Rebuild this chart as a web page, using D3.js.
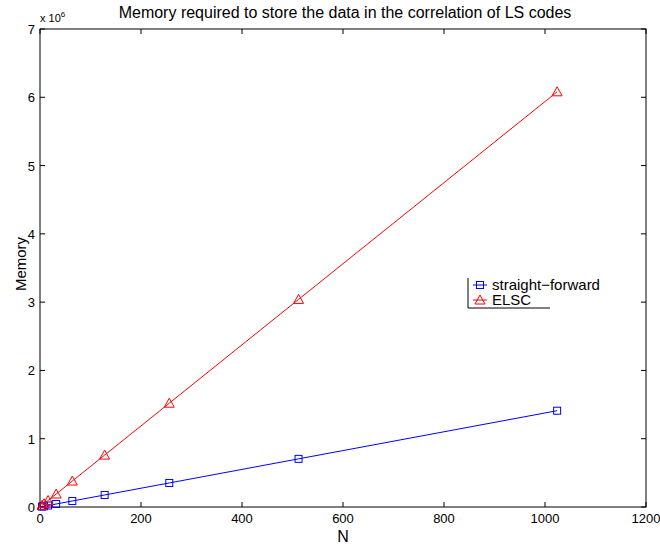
<!DOCTYPE html>
<html>
<head>
<meta charset="utf-8">
<script src="https://cdn.jsdelivr.net/npm/d3@7"></script>
<style>
  body { margin: 0; background: #fff; }
  text { font-family: "Liberation Sans", Arial, sans-serif; }
</style>
</head>
<body>
<script>
// Data.
const nValues = [4, 8, 16, 32, 64, 128, 256, 512, 1024];
const straightForward = [0.0055e6, 0.011e6, 0.022e6, 0.044e6, 0.088e6, 0.176e6, 0.352e6, 0.705e6, 1.41e6];
const elsc = [0.024e6, 0.048e6, 0.095e6, 0.19e6, 0.38e6, 0.76e6, 1.52e6, 3.04e6, 6.08e6];
const xTicks = [0, 200, 400, 600, 800, 1000, 1200];
const yTicks = [0, 1, 2, 3, 4, 5, 6, 7];
const seriesNames = ["straight\u2212forward", "ELSC"];

const width = 660, height = 544;
const margin = {left: 40, right: 14, top: 29, bottom: 37};

const svg = d3.select("body").append("svg")
  .attr("width", width)
  .attr("height", height);

const x = d3.scaleLinear().domain([0, 1200]).range([margin.left, width - margin.right]);
const y = d3.scaleLinear().domain([0, 7e6]).range([height - margin.bottom, margin.top]);

// Axes box with inward ticks on all four sides (MATLAB style).
const tick = 5;
svg.append("rect")
  .attr("x", x(0)).attr("y", y(7e6))
  .attr("width", x(1200) - x(0)).attr("height", y(0) - y(7e6))
  .attr("fill", "none").attr("stroke", "#000").attr("stroke-width", 1);

xTicks.forEach(t => {
  svg.append("line").attr("x1", x(t)).attr("x2", x(t))
    .attr("y1", y(0)).attr("y2", y(0) - tick).attr("stroke", "#000");
  svg.append("line").attr("x1", x(t)).attr("x2", x(t))
    .attr("y1", y(7e6)).attr("y2", y(7e6) + tick).attr("stroke", "#000");
  svg.append("text")
    .attr("x", x(t)).attr("y", y(0) + 16)
    .attr("text-anchor", "middle").attr("font-size", "13px")
    .text(t);
});
yTicks.forEach(t => {
  svg.append("line").attr("x1", x(0)).attr("x2", x(0) + tick)
    .attr("y1", y(t * 1e6)).attr("y2", y(t * 1e6)).attr("stroke", "#000");
  svg.append("line").attr("x1", x(1200)).attr("x2", x(1200) - tick)
    .attr("y1", y(t * 1e6)).attr("y2", y(t * 1e6)).attr("stroke", "#000");
  svg.append("text")
    .attr("x", x(0) - 5).attr("y", y(t * 1e6) + 5)
    .attr("text-anchor", "end").attr("font-size", "13px")
    .text(t);
});

// Exponent label.
const expo = svg.append("text")
  .attr("x", x(0)).attr("y", 22).attr("font-size", "11px");
expo.append("tspan").text("x 10");
expo.append("tspan").attr("dy", -5).attr("font-size", "8px").text("6");

// Title and axis labels.
svg.append("text")
  .attr("x", 345).attr("y", 18)
  .attr("text-anchor", "middle").attr("font-size", "16px")
  .text("Memory required to store the data in the correlation of LS codes");
svg.append("text")
  .attr("x", 343).attr("y", 542)
  .attr("text-anchor", "middle").attr("font-size", "16px")
  .text("N");
svg.append("text")
  .attr("transform", `translate(26, ${(y(0) + y(7e6)) / 2 - 4}) rotate(-90)`)
  .attr("text-anchor", "middle").attr("font-size", "15px")
  .text("Memory");

const line = d3.line().x(d => x(d[0])).y(d => y(d[1]));

function squareMarker(g, cx, cy, color) {
  g.append("rect")
    .attr("x", cx - 3.5).attr("y", cy - 3.5)
    .attr("width", 7).attr("height", 7)
    .attr("fill", "none").attr("stroke", color).attr("stroke-width", 1);
}
function triangleMarker(g, cx, cy, color) {
  const s = 5;
  g.append("path")
    .attr("d", `M${cx},${cy - s} L${cx + s},${cy + s * 0.8} L${cx - s},${cy + s * 0.8} Z`)
    .attr("fill", "none").attr("stroke", color).attr("stroke-width", 1);
}

const series = [
  {values: straightForward, color: "#0000ff", marker: squareMarker},
  {values: elsc, color: "#ff0000", marker: triangleMarker}
];

series.forEach(s => {
  const pts = nValues.map((n, i) => [n, s.values[i]]);
  svg.append("path").datum(pts)
    .attr("d", line).attr("fill", "none")
    .attr("stroke", s.color).attr("stroke-width", 1);
  const g = svg.append("g");
  pts.forEach(p => s.marker(g, x(p[0]), y(p[1]), s.color));
});

// Legend (only left and bottom edges are drawn, as in the reference).
const legend = svg.append("g");
const lx = 468, ly = 278, lw = 82, lh = 30;
legend.append("line").attr("x1", lx).attr("x2", lx).attr("y1", ly).attr("y2", ly + lh).attr("stroke", "#000");
legend.append("line").attr("x1", lx).attr("x2", lx + lw).attr("y1", ly + lh).attr("y2", ly + lh).attr("stroke", "#000");
series.forEach((s, i) => {
  const cy = ly + 7 + i * 15;
  legend.append("line").attr("x1", lx + 5).attr("x2", lx + 19)
    .attr("y1", cy).attr("y2", cy).attr("stroke", s.color);
  s.marker(legend, lx + 12, cy, s.color);
  legend.append("text")
    .attr("x", lx + 24).attr("y", cy + 5)
    .attr("font-size", "15px")
    .text(seriesNames[i]);
});
</script>
</body>
</html>
